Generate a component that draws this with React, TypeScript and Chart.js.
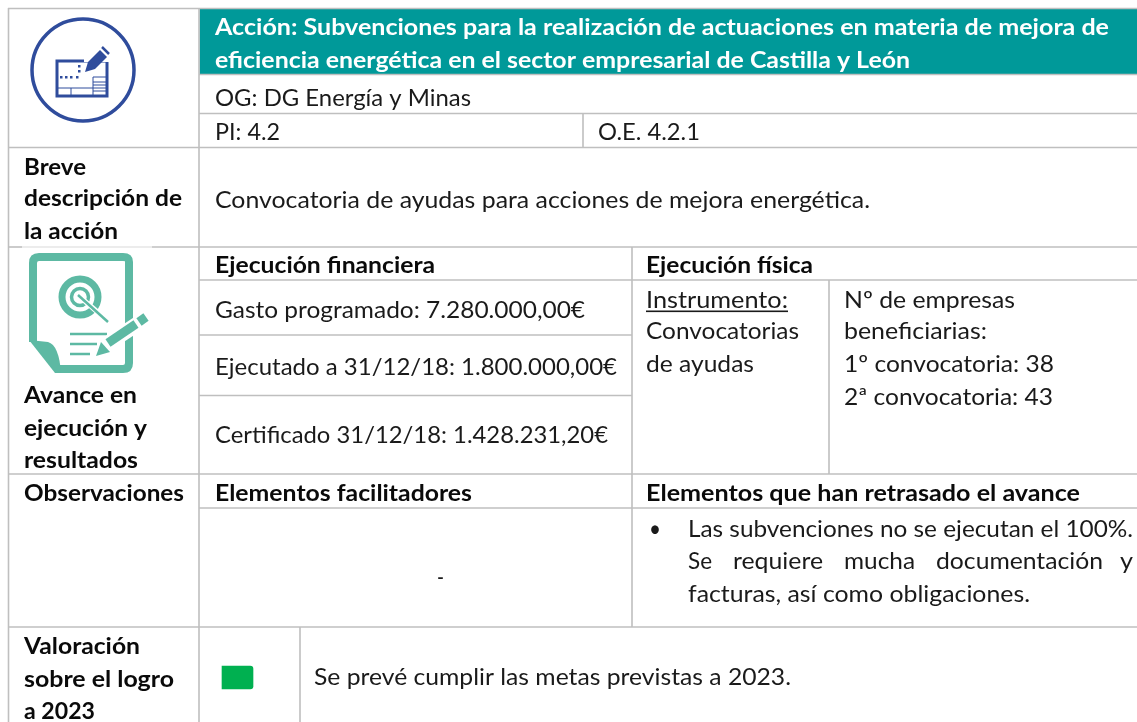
import React, { useEffect, useRef } from "react";
import { Chart, registerables } from "chart.js";

Chart.register(...registerables);

// Table grid, in the same units as the picture
const horizontalRules = [
  [8.5, 8, 1137], [74.5, 199, 1137], [113.5, 199, 1137], [147.5, 8, 1137],
  [247, 8, 22], [247, 152, 1137], [280, 199, 1137], [335, 199, 632], [395.5, 199, 632],
  [474, 8, 1137], [508, 199, 1137], [627, 8, 1137],
];
const fadedRules = [[247, 22, 152]];
const verticalRules = [
  [8.5, 8, 722], [199, 8, 722], [583, 114, 147], [632, 247, 627], [829, 280, 474], [300, 627, 722],
];
const headerBand = [{ x: [200, 1137], y: 41.5 }];
const statusBadge = [{ x: [222, 253], y: 677.5 }];

// Cell text: [text, left, right, baseline]
const headerText = [
  ["Acción: Subvenciones para la realización de actuaciones en materia de mejora de", 215, 1109, 35],
  ["eficiencia energética en el sector empresarial de Castilla y León", 215, 910, 68],
];
const boldText = [
  ["Breve", 24, 86, 175],
  ["descripción de", 24, 182, 206],
  ["la acción", 24, 118, 239],
  ["Ejecución financiera", 215, 435, 273],
  ["Ejecución física", 646, 813, 273],
  ["Avance en", 24, 137, 403],
  ["ejecución y", 24, 147, 436],
  ["resultados", 24, 138, 468],
  ["Observaciones", 24, 184, 501],
  ["Elementos facilitadores", 215, 472, 501],
  ["Elementos que han retrasado el avance", 646, 1080, 501],
  ["Valoración", 24, 140, 654],
  ["sobre el logro", 24, 174, 687],
  ["a 2023", 24, 95, 719],
];
const plainText = [
  ["OG: DG Energía y Minas", 215, 471, 106],
  ["PI: 4.2", 215, 280, 140],
  ["O.E. 4.2.1", 598, 700, 140],
  ["Convocatoria de ayudas para acciones de mejora energética.", 215, 870, 208],
  ["Gasto programado: 7.280.000,00€", 215, 585, 318],
  ["Ejecutado a 31/12/18: 1.800.000,00€", 215, 617, 375],
  ["Certificado 31/12/18: 1.428.231,20€", 215, 608, 443],
  ["Instrumento:", 646, 788, 308],
  ["Convocatorias", 646, 799, 339],
  ["de ayudas", 646, 754, 372],
  ["Nº de empresas", 844, 1015, 308],
  ["beneficiarias:", 844, 987, 339],
  ["1º convocatoria: 38", 844, 1054, 372],
  ["2ª convocatoria: 43", 844, 1053, 405],
  ["•", 649, 661, 537],
  ["Las subvenciones no se ejecutan el 100%.", 688, 1133, 537],
  ["Se", 688, 712, 569],
  ["requiere", 733, 823, 569],
  ["mucha", 844, 915, 569],
  ["documentación", 936, 1103, 569],
  ["y", 1120, 1133, 569],
  ["facturas, así como obligaciones.", 688, 1030, 602],
  ["-", 437, 444, 585],
  ["Se prevé cumplir las metas previstas a 2023.", 314, 791, 685],
];
const underlinedLabel = "Instrumento:";

const RULE = "#BFBFBF";
const FONT = "Lato";
const SIZE = 23;

function drawIcons(ctx: CanvasRenderingContext2D, X: (v: number) => number, Y: (v: number) => number) {
  const blue = "#2F4C9C";
  ctx.save();
  ctx.lineCap = "butt";
  ctx.strokeStyle = blue;
  ctx.lineWidth = 3.5;
  ctx.beginPath();
  ctx.arc(X(83), Y(70), 51, 0, Math.PI * 2);
  ctx.stroke();
  ctx.lineWidth = 3;
  ctx.strokeRect(X(57), Y(61), 50, 35);
  ctx.lineWidth = 1;
  ctx.beginPath();
  ctx.moveTo(X(58), Y(88)); ctx.lineTo(X(106), Y(88));
  ctx.moveTo(X(71), Y(88)); ctx.lineTo(X(71), Y(96));
  ctx.moveTo(X(93), Y(77)); ctx.lineTo(X(106), Y(77));
  ctx.moveTo(X(93), Y(77)); ctx.lineTo(X(93), Y(96));
  ctx.moveTo(X(93), Y(82)); ctx.lineTo(X(106), Y(82));
  ctx.moveTo(X(93), Y(85)); ctx.lineTo(X(106), Y(85));
  ctx.moveTo(X(93), Y(91)); ctx.lineTo(X(106), Y(91));
  ctx.stroke();
  ctx.fillStyle = blue;
  for (const p of [[60, 76], [65, 76], [70, 76], [76, 76], [78, 70], [78, 65]]) {
    ctx.fillRect(X(p[0]), Y(p[1]), 2.5, 2.5);
  }
  ctx.fillStyle = "#FFFFFF";
  ctx.fillRect(X(84), Y(50), 26, 12);
  ctx.fillStyle = blue;
  ctx.beginPath();
  ctx.moveTo(X(85), Y(72)); ctx.lineTo(X(88), Y(62)); ctx.lineTo(X(100), Y(50));
  ctx.lineTo(X(107), Y(57)); ctx.lineTo(X(95), Y(69));
  ctx.closePath();
  ctx.fill();
  ctx.lineWidth = 2.5;
  ctx.beginPath();
  ctx.moveTo(X(102), Y(47)); ctx.lineTo(X(109), Y(54));
  ctx.stroke();

  const teal = "#5DB9A3";
  ctx.strokeStyle = teal;
  ctx.fillStyle = teal;
  ctx.lineWidth = 8;
  ctx.lineJoin = "round";
  ctx.beginPath();
  ctx.moveTo(X(58), Y(369)); ctx.lineTo(X(123), Y(369));
  ctx.quadraticCurveTo(X(129), Y(369), X(129), Y(363));
  ctx.lineTo(X(129), Y(262));
  ctx.quadraticCurveTo(X(129), Y(257), X(123), Y(257));
  ctx.lineTo(X(39), Y(257));
  ctx.quadraticCurveTo(X(33), Y(257), X(33), Y(263));
  ctx.lineTo(X(33), Y(342));
  ctx.stroke();
  ctx.beginPath();
  ctx.moveTo(X(29), Y(340)); ctx.lineTo(X(48), Y(342));
  ctx.quadraticCurveTo(X(59), Y(345), X(61), Y(373));
  ctx.lineTo(X(55), Y(373));
  ctx.closePath();
  ctx.fill();
  ctx.lineWidth = 7;
  ctx.beginPath();
  ctx.arc(X(80), Y(297), 18, 0, Math.PI * 2);
  ctx.stroke();
  ctx.lineWidth = 3.5;
  ctx.beginPath();
  ctx.arc(X(80), Y(297), 8.5, 0, Math.PI * 2);
  ctx.stroke();
  ctx.strokeStyle = "#FFFFFF";
  ctx.lineWidth = 5;
  ctx.beginPath();
  ctx.moveTo(X(80), Y(297)); ctx.lineTo(X(101), Y(315));
  ctx.stroke();
  ctx.strokeStyle = teal;
  ctx.lineWidth = 2.5;
  ctx.beginPath();
  ctx.moveTo(X(78), Y(295)); ctx.lineTo(X(108), Y(322));
  ctx.stroke();
  ctx.beginPath();
  ctx.moveTo(X(70), Y(334)); ctx.lineTo(X(107), Y(334));
  ctx.moveTo(X(70), Y(344)); ctx.lineTo(X(97), Y(344));
  ctx.moveTo(X(70), Y(354)); ctx.lineTo(X(90), Y(354));
  ctx.stroke();
  ctx.strokeStyle = "#FFFFFF";
  ctx.lineWidth = 15;
  ctx.beginPath();
  ctx.moveTo(X(104), Y(346)); ctx.lineTo(X(145), Y(319));
  ctx.stroke();
  ctx.strokeStyle = teal;
  ctx.lineWidth = 9;
  ctx.beginPath();
  ctx.moveTo(X(108), Y(343)); ctx.lineTo(X(136), Y(324));
  ctx.stroke();
  ctx.beginPath();
  ctx.moveTo(X(139), Y(322)); ctx.lineTo(X(146), Y(317));
  ctx.stroke();
  ctx.beginPath();
  ctx.moveTo(X(96), Y(356)); ctx.lineTo(X(101), Y(342)); ctx.lineTo(X(110), Y(352));
  ctx.closePath();
  ctx.fill();
  ctx.restore();
}

const tablePlugin = {
  id: "tableCells",
  afterDatasetsDraw(chart: any) {
    const ctx: CanvasRenderingContext2D = chart.ctx;
    const X = (v: number) => chart.scales.x.getPixelForValue(v);
    const Y = (v: number) => chart.scales.y.getPixelForValue(v);
    const put = (rows: any[], weight: string, color: string) => {
      ctx.font = `${weight} ${SIZE}px ${FONT}`;
      ctx.fillStyle = color;
      ctx.textBaseline = "alphabetic";
      ctx.textAlign = "left";
      for (const [text, left, right, base] of rows) {
        const natural = ctx.measureText(text).width;
        ctx.save();
        ctx.translate(X(left), Y(base));
        ctx.scale((X(right) - X(left)) / natural, 1);
        ctx.fillText(text, 0, 0);
        ctx.restore();
        if (text === underlinedLabel) {
          ctx.fillRect(X(left), Y(base) + 2.5, X(right) - X(left), 1.6);
        }
      }
    };
    put(headerText, "bold", "#FFFFFF");
    put(boldText, "bold", "#0A0A0A");
    put(plainText, "normal", "#1A1A1A");
    drawIcons(ctx, X, Y);
  },
};

const ruleDataset = (r: number[], isVertical: boolean, color: string) => ({
  type: "scatter",
  data: isVertical ? [{ x: r[0], y: r[1] }, { x: r[0], y: r[2] }] : [{ x: r[1], y: r[0] }, { x: r[2], y: r[0] }],
  showLine: true,
  borderColor: color,
  borderWidth: 1.6,
  pointRadius: 0,
  clip: false,
  order: 0,
});

export default function App() {
  const ref = useRef<HTMLCanvasElement>(null);
  useEffect(() => {
    const chart = new Chart(ref.current as HTMLCanvasElement, {
      type: "bar",
      data: {
        datasets: [
          { type: "bar", indexAxis: "y", grouped: false, data: headerBand, backgroundColor: "#009999", barThickness: 65, order: 2 },
          { type: "bar", indexAxis: "y", grouped: false, data: statusBadge, backgroundColor: "#00B050", barThickness: 23, borderRadius: 3, order: 1 },
          ...horizontalRules.map((r) => ruleDataset(r, false, RULE)),
          ...fadedRules.map((r) => ruleDataset(r, false, "#E6E6E6")),
          ...verticalRules.map((r) => ruleDataset(r, true, RULE)),
        ] as any,
      },
      options: {
        animation: false,
        responsive: false,
        events: [],
        layout: { padding: 0, autoPadding: false },
        scales: {
          x: { type: "linear", axis: "x", min: 0, max: 1137, display: false, offset: false },
          y: { type: "linear", axis: "y", min: 0, max: 722, reverse: true, display: false, offset: false },
        },
        plugins: { legend: { display: false }, tooltip: { enabled: false }, title: { display: false } },
      } as any,
      plugins: [tablePlugin],
    });
    return () => chart.destroy();
  }, []);
  return (
    <div style={{ position: "absolute", left: 0, top: 0, width: 1137, height: 722, background: "#fff" }}>
      <canvas ref={ref} width={1137} height={722} style={{ display: "block" }} />
    </div>
  );
}
